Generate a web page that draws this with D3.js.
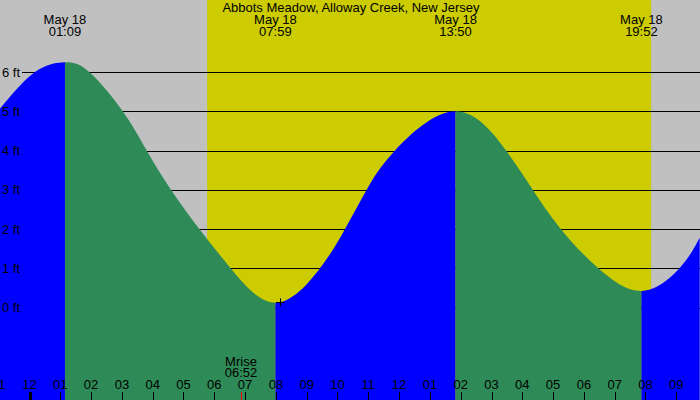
<!DOCTYPE html>
<html>
<head>
<meta charset="utf-8">
<script src="https://cdn.jsdelivr.net/npm/d3@7"></script>
<style>
  body { margin: 0; background: #fff; }
  svg { display: block; }
  text { font-family: "Liberation Sans", Arial, sans-serif; font-size: 13px; fill: #000; }
</style>
</head>
<body>
<div id="chart"></div>
<script>
// tide curve: hours after midnight May 18, height in feet
var tideHours = [-0.958, 0.18, 1.15, 1.94, 3.026, 3.805, 4.594, 5.513, 6.532, 7.983,
                 9.432, 10.244, 10.948, 11.867, 13.833, 15.471, 16.338, 17.247,
                 18.468, 19.867, 21.104, 21.76];
var tideFeet = [5.07, 6.0, 6.25, 6.0, 5.0, 4.0, 3.0, 2.0, 1.0, 0.12,
                1.0, 2.0, 3.0, 4.0, 5.0, 4.0, 3.0, 2.0,
                1.0, 0.42, 1.0, 1.78];

// highs and lows
var extremeTimes = ["01:09", "07:59", "13:50", "19:52"];
var extremeKinds = ["high", "low", "high", "low"];
var extremeDate = "May 18";

var sunriseTime = "05:46";
var sunsetTime = "20:11";
var moonriseTime = "06:52";
var markerTime = "08:08", markerFeet = 0.13;

var title = "Abbots Meadow, Alloway Creek, New Jersey";
var footTicks = [0, 1, 2, 3, 4, 5, 6];
var hourTicks = d3.range(-1, 23);

var W = 700, H = 400;

function toHours(s) {
  var p = s.split(":");
  return +p[0] + p[1] / 60;
}
function hourLabel(h) {
  var v = ((h % 12) + 12) % 12 || 12;
  return (v < 10 ? "0" : "") + v;
}

var x = d3.scaleLinear().domain([0, 21]).range([29.5, 676.3]);
var y = d3.scaleLinear().domain([0, 6]).range([307.5, 72]);

var svg = d3.select("#chart").append("svg")
  .attr("width", W)
  .attr("height", H);

// night background, then daylight band
svg.append("rect").attr("width", W).attr("height", H).attr("fill", "#c0c0c0");
svg.append("rect")
  .attr("x", x(toHours(sunriseTime)))
  .attr("y", 0)
  .attr("width", x(toHours(sunsetTime)) - x(toHours(sunriseTime)))
  .attr("height", H)
  .attr("fill", "#cccc00");

// foot grid lines sit behind the water
svg.selectAll("line.grid").data(footTicks).enter().append("line")
  .attr("class", "grid")
  .attr("x1", 22).attr("x2", W)
  .attr("y1", d => Math.round(y(d)) + 0.5)
  .attr("y2", d => Math.round(y(d)) + 0.5)
  .attr("stroke", "#000");

var tide = tideHours.map((h, i) => ({ h: h, f: tideFeet[i] }));

var area = d3.area()
  .x(d => x(d.h))
  .y0(H)
  .y1(d => y(d.f))
  .curve(d3.curveNatural);

// rising water blue, falling water green -- split at each high/low
var bounds = [-2].concat(extremeTimes.map(toHours), [24]);
var defs = svg.append("defs");
for (var i = 0; i < bounds.length - 1; i++) {
  var rising = (extremeKinds[i] || "high") === "high";
  defs.append("clipPath").attr("id", "seg" + i)
    .append("rect")
    .attr("x", x(bounds[i]))
    .attr("y", 0)
    .attr("width", x(bounds[i + 1]) - x(bounds[i]))
    .attr("height", H);
  svg.append("path")
    .datum(tide)
    .attr("d", area)
    .attr("clip-path", "url(#seg" + i + ")")
    .attr("fill", rising ? "#0000ff" : "#2e8b57");
}

// little cross near the first low
var mx = x(toHours(markerTime)), my = y(markerFeet);
svg.append("path")
  .attr("d", `M${mx - 4},${Math.round(my) + 0.5}H${mx + 4}M${Math.round(mx) + 0.5},${my - 4}V${my + 4}`)
  .attr("stroke", "#000");

// foot labels
svg.selectAll("text.ft").data(footTicks).enter().append("text")
  .attr("class", "ft")
  .attr("x", 2)
  .attr("y", d => y(d) + 4.5)
  .text(d => d + " ft");

// title and extreme times
svg.append("text")
  .attr("x", 351).attr("y", 12)
  .attr("text-anchor", "middle")
  .text(title);

var ext = svg.selectAll("g.ext").data(extremeTimes).enter().append("g")
  .attr("class", "ext")
  .attr("transform", d => `translate(${x(toHours(d))},0)`);
ext.append("text").attr("y", 24).attr("text-anchor", "middle").text(extremeDate);
ext.append("text").attr("y", 36).attr("text-anchor", "middle").text(d => d);

// hour axis along the bottom
svg.selectAll("line.tick").data(hourTicks).enter().append("line")
  .attr("class", "tick")
  .attr("x1", d => Math.round(x(d)) + 0.5)
  .attr("x2", d => Math.round(x(d)) + 0.5)
  .attr("y1", 392).attr("y2", H)
  .attr("stroke", "#000")
  .attr("stroke-width", d => d === 0 ? 3 : 1);

svg.selectAll("text.hr").data(hourTicks).enter().append("text")
  .attr("class", "hr")
  .attr("x", d => x(d))
  .attr("y", 389)
  .attr("text-anchor", "middle")
  .text(hourLabel);

// moonrise
var mr = x(toHours(moonriseTime));
svg.append("line")
  .attr("x1", Math.round(mr) + 0.5).attr("x2", Math.round(mr) + 0.5)
  .attr("y1", 392).attr("y2", H)
  .attr("stroke", "#ff0000");
svg.append("text").attr("x", mr).attr("y", 366).attr("text-anchor", "middle").text("Mrise");
svg.append("text").attr("x", mr).attr("y", 377).attr("text-anchor", "middle").text(moonriseTime);
</script>
</body>
</html>
